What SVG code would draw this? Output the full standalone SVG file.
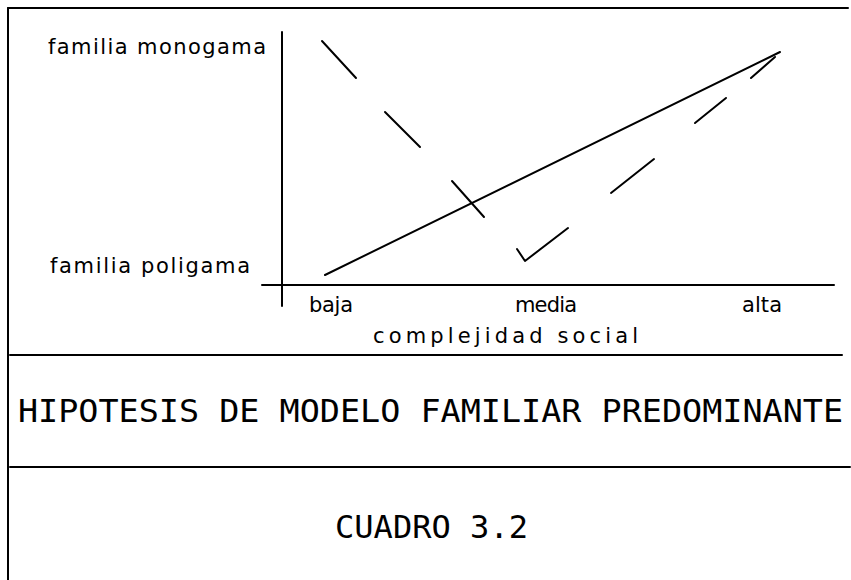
<svg xmlns="http://www.w3.org/2000/svg" width="851" height="580" viewBox="0 0 851 580">
<style>
.ln{stroke:#000;stroke-width:2;fill:none;stroke-linecap:round;stroke-linejoin:round}
.lc{font-family:"DejaVu Sans","Liberation Sans",sans-serif;font-size:21px;fill:#000}
.uc{font-family:"DejaVu Sans Mono","Liberation Mono",monospace;font-size:32px;fill:#000}
</style>
<rect width="851" height="580" fill="#fff"/>
<g id="frame">
<line class="ln" x1="8" y1="8" x2="848" y2="8"/>
<line class="ln" x1="8" y1="8" x2="8" y2="580"/>
<line class="ln" x1="10" y1="355" x2="842" y2="355"/>
<line class="ln" x1="10" y1="467" x2="850" y2="467"/>
</g>
<g id="axes">
<line class="ln" x1="282" y1="32" x2="282" y2="306"/>
<line class="ln" x1="262" y1="285" x2="834" y2="285"/>
</g>
<g id="y-labels">
<text class="lc" x="48" y="54" textLength="218" lengthAdjust="spacing">familia monogama</text>
<text class="lc" x="50" y="273" textLength="200" lengthAdjust="spacing">familia poligama</text>
</g>
<g id="x-labels">
<text class="lc" x="309" y="312" textLength="44" lengthAdjust="spacing">baja</text>
<text class="lc" x="515" y="312" textLength="62" lengthAdjust="spacing">media</text>
<text class="lc" x="742" y="312" textLength="40" lengthAdjust="spacing">alta</text>
<text class="lc" x="373" y="343" textLength="265" lengthAdjust="spacing">complejidad social</text>
</g>
<g id="connectors">
<line class="ln" x1="325" y1="275" x2="780" y2="52"/>
<g id="descending-dashed">
<line class="ln" x1="322" y1="41" x2="356" y2="78"/>
<line class="ln" x1="385" y1="112" x2="420" y2="147"/>
<line class="ln" x1="452" y1="181" x2="484" y2="217"/>
</g>
<g id="ascending-dashed">
<polyline class="ln" points="517,249 525,261 568,228"/>
<line class="ln" x1="611" y1="193" x2="654" y2="159"/>
<line class="ln" x1="695" y1="123" x2="726" y2="98"/>
<line class="ln" x1="751" y1="78" x2="775" y2="57"/>
</g>
</g>
<g id="title">
<text class="uc" x="18" y="422" textLength="825" lengthAdjust="spacingAndGlyphs">HIPOTESIS DE MODELO FAMILIAR PREDOMINANTE</text>
</g>
<g id="caption">
<text class="uc" x="335" y="538" textLength="193" lengthAdjust="spacingAndGlyphs">CUADRO 3.2</text>
</g>
</svg>
